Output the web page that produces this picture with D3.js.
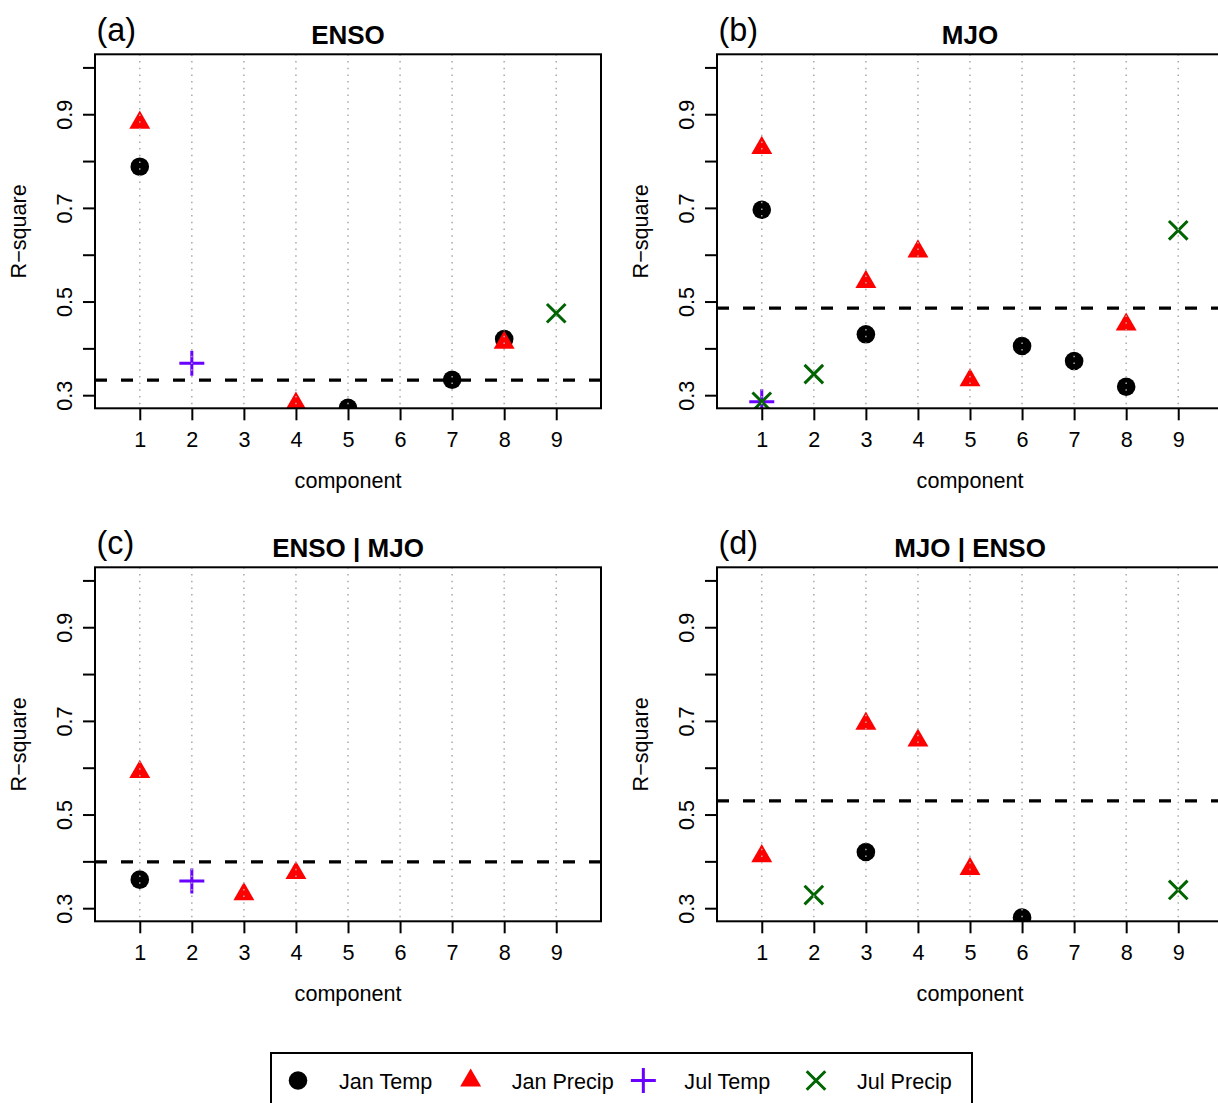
<!DOCTYPE html>
<html>
<head>
<meta charset="utf-8">
<script src="https://cdn.jsdelivr.net/npm/d3@7"></script>
<style>
  body { margin: 0; background: #fff; }
  svg { display: block; font-family: "Liberation Sans", Arial, Helvetica, sans-serif; }
  .axis path { display: none; }
  .axis line { stroke: #000; stroke-width: 2; }
  .axis text { font-size: 21.6px; fill: #000; }
</style>
</head>
<body>
<svg id="chart" width="1218" height="1103"></svg>
<script>
// components on the x axis
var components = [1, 2, 3, 4, 5, 6, 7, 8, 9];
var panelTitles = ["ENSO", "MJO", "ENSO | MJO", "MJO | ENSO"];
var panelTags = ["(a)", "(b)", "(c)", "(d)"];
var yTicks = [0.3, 0.4, 0.5, 0.6, 0.7, 0.8, 0.9, 1.0];
var yLabels = ["0.3", "", "0.5", "", "0.7", "", "0.9", ""];
var seriesNames = ["Jan Temp", "Jan Precip", "Jul Temp", "Jul Precip"];

// R-square per component, one row per panel (null = not shown)
var janTemp = [
  [0.788, null, null, null, 0.273, null, 0.333, 0.420, null],
  [0.696, null, 0.430, null, null, 0.405, 0.373, 0.318, null],
  [0.361, null, null, null, null, null, null, null, null],
  [null, null, 0.420, null, null, 0.280, null, null, null]
];
var janPrecip = [
  [0.882, null, null, 0.282, null, 0.248, null, 0.412, null],
  [0.828, null, 0.542, 0.607, 0.332, null, null, 0.451, null],
  [0.591, null, 0.330, 0.375, null, null, null, null, null],
  [0.411, null, 0.694, 0.658, 0.384, null, null, null, null]
];
var julTemp = [
  [null, 0.368, null, null, null, null, null, null, null],
  [0.286, null, null, null, null, null, null, null, null],
  [null, 0.358, null, null, null, null, null, null, null],
  [null, null, null, null, null, null, null, null, null]
];
var julPrecip = [
  [null, null, null, null, null, null, null, null, 0.475],
  [0.286, 0.345, null, null, null, null, null, null, 0.652],
  [null, null, null, null, null, null, null, null, null],
  [null, 0.328, null, null, null, null, null, null, 0.339]
];
// significance threshold (dashed line) per panel
var thresholds = [0.332, 0.486, 0.399, 0.529];

var colors = ["#000000", "#ff0000", "#6a00ff", "#006400"];

var svg = d3.select("#chart");

var panelW = 622, panelH = 513,
    margin = {left: 95, top: 54.3},
    width = 506, height = 354;

var x = d3.scaleLinear().domain([0.14, 9.86]).range([0, width]);
var y = d3.scaleLinear().domain([0.272, 1.028]).range([height, 0]);

// R style point symbols
function drawSymbol(g, kind, cx, cy) {
  if (kind == 0) {
    g.append("circle").attr("cx", cx).attr("cy", cy).attr("r", 9.3)
      .attr("fill", colors[0]);
  } else if (kind == 1) {
    var r = 12.1, hx = r * 0.866;
    g.append("path")
      .attr("d", "M" + cx + "," + (cy - r) + "L" + (cx + hx) + "," + (cy + r / 2) +
                 "L" + (cx - hx) + "," + (cy + r / 2) + "Z")
      .attr("fill", colors[1]);
  } else if (kind == 2) {
    var s = 12.5;
    g.append("path")
      .attr("d", "M" + (cx - s) + "," + cy + "H" + (cx + s) + "M" + cx + "," + (cy - s) + "V" + (cy + s))
      .attr("stroke", colors[2]).attr("stroke-width", 3).attr("fill", "none");
  } else {
    var t = 9.3;
    g.append("path")
      .attr("d", "M" + (cx - t) + "," + (cy - t) + "L" + (cx + t) + "," + (cy + t) +
                 "M" + (cx - t) + "," + (cy + t) + "L" + (cx + t) + "," + (cy - t))
      .attr("stroke", colors[3]).attr("stroke-width", 3).attr("fill", "none");
  }
}

var allSeries = [janTemp, janPrecip, julTemp, julPrecip];

panelTitles.forEach(function(title, p) {
  var col = p % 2, row = Math.floor(p / 2);
  var g = svg.append("g")
      .attr("transform", "translate(" + (col * panelW + margin.left) + "," + (row * panelH + margin.top) + ")");

  g.append("clipPath").attr("id", "clip" + p)
    .append("rect").attr("width", width).attr("height", height);

  var plot = g.append("g").attr("clip-path", "url(#clip" + p + ")");

  // points
  allSeries.forEach(function(series, k) {
    series[p].forEach(function(v, i) {
      if (v == null) return;
      drawSymbol(plot, k, x(components[i]), y(v));
    });
  });

  // dotted verticals
  plot.selectAll(".grid")
    .data(components)
    .enter().append("line")
      .attr("x1", function(d) { return x(d); })
      .attr("x2", function(d) { return x(d); })
      .attr("y1", 0).attr("y2", height)
      .attr("stroke", "#a8a8a8").attr("stroke-width", 1.5)
      .attr("stroke-dasharray", "1.5,5.2");

  // threshold
  plot.append("line")
    .attr("x1", 0).attr("x2", width)
    .attr("y1", y(thresholds[p])).attr("y2", y(thresholds[p]))
    .attr("stroke", "#000").attr("stroke-width", 3.2)
    .attr("stroke-dasharray", "12,14");

  // box
  g.append("rect").attr("width", width).attr("height", height)
    .attr("fill", "none").attr("stroke", "#000").attr("stroke-width", 2);

  // axes
  g.append("g").attr("class", "axis")
    .attr("transform", "translate(0," + height + ")")
    .call(d3.axisBottom(x).tickValues(components).tickSize(12).tickPadding(0).tickFormat(d3.format("d")))
    .selectAll("text").attr("dy", null).attr("y", 38.7);

  var ya = g.append("g").attr("class", "axis")
    .call(d3.axisLeft(y).tickValues(yTicks).tickSize(12)
      .tickFormat(function(d, i) { return yLabels[i]; }));
  ya.selectAll("text")
    .attr("x", null).attr("dy", null)
    .attr("text-anchor", "middle")
    .attr("transform", "translate(-23,0) rotate(-90)");

  // labels
  g.append("text")
    .attr("x", width / 2).attr("y", height + 80)
    .attr("text-anchor", "middle").attr("font-size", "21.6px")
    .text("component");

  g.append("text")
    .attr("transform", "translate(-69.5," + (height / 2) + ") rotate(-90)")
    .attr("text-anchor", "middle").attr("font-size", "21.6px")
    .text("R\u2212square");

  g.append("text")
    .attr("x", width / 2).attr("y", -10.3)
    .attr("text-anchor", "middle").attr("font-size", "26px").attr("font-weight", "bold")
    .text(title);

  g.append("text")
    .attr("x", 1.5).attr("y", -13.5)
    .attr("font-size", "32.4px")
    .text(panelTags[p]);
});

// legend
var legend = svg.append("g");
legend.append("rect")
  .attr("x", 271).attr("y", 1053).attr("width", 701).attr("height", 62)
  .attr("fill", "none").attr("stroke", "#000").attr("stroke-width", 2);

var lx = d3.scaleLinear().domain([0, 3]).range([298, 816]);
seriesNames.forEach(function(name, k) {
  drawSymbol(legend, k, lx(k), 1080.5);
  legend.append("text")
    .attr("x", lx(k) + 41).attr("y", 1088.5)
    .attr("font-size", "21.6px")
    .text(name);
});
</script>
</body>
</html>
